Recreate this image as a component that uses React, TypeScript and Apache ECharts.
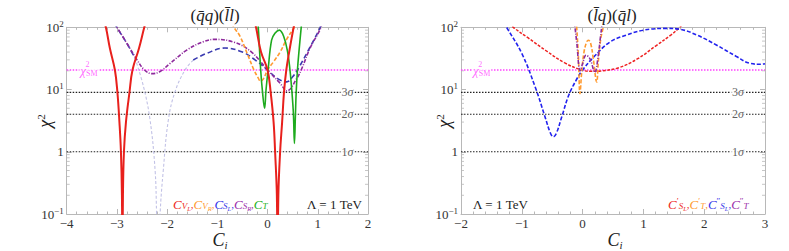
import { useEffect, useRef } from 'react';
import * as echarts from 'echarts';

const FONT = 'Liberation Serif, DejaVu Serif, serif';
const FRAME = '#b8b8b8';

const leftRange = [-4, 2];
const rightRange = [-2, 3];
const chi2SM = 20.6;
const sigmaChi2 = [1, 4, 9];
const sigmaText = ['1σ', '2σ', '3σ'];
const logMinor = [0.2, 0.3, 0.4, 0.5, 0.6, 0.7, 0.8, 0.9, 2, 3, 4, 5, 6, 7, 8, 9, 20, 30, 40, 50, 60, 70, 80, 90];

// ---- left panel (q̄q)(l̄l)
const cVL1 = [[-3.27, 130], [-3.22, 100], [-3.14, 46], [-3.04, 20.6], [-2.99, 9], [-2.95, 3], [-2.92, 1], [-2.9, 0.2], [-2.89, 0.01], [-2.88, 0.2], [-2.86, 1], [-2.82, 3], [-2.75, 9], [-2.69, 20.6], [-2.56, 46], [-2.455, 100], [-2.42, 125]];
const cVL2 = [[-0.27, 130], [-0.23, 100], [-0.13, 40], [0, 20.6], [0.062, 9], [0.12, 3], [0.15, 1], [0.185, 0.2], [0.2, 0.01], [0.215, 0.2], [0.25, 1], [0.29, 3], [0.327, 9], [0.373, 20.6], [0.43, 40], [0.52, 100], [0.55, 125]];
const cVR = [[-0.7, 118], [-0.67, 100], [-0.55, 72], [-0.4, 37], [-0.27, 20.6], [-0.19, 15.5], [-0.14, 13.6], [-0.08, 15], [0, 20.6], [0.12, 28], [0.25, 40], [0.37, 62], [0.53, 100], [0.56, 112]];
const cSLa = [[-3.04, 118], [-3.0, 100], [-2.8, 55], [-2.64, 32]];
const cSLfaint = [[-2.64, 32], [-2.47, 11.1], [-2.34, 3.24], [-2.24, 0.51], [-2.21, 0.1], [-2.175, 0.01], [-2.14, 0.1], [-2.076, 0.51], [-1.976, 3.24], [-1.843, 9.2], [-1.644, 20.6], [-1.48, 29.8]];
const cSLb = [[-1.48, 29.8], [-1.21, 38.2], [-0.85, 46.5], [-0.5, 40], [-0.25, 30], [0, 20.6], [0.2, 15], [0.38, 13.3], [0.5, 16], [0.63, 23], [0.845, 48], [1.04, 96], [1.06, 110]];
const cSR = [[-3.06, 118], [-3.0, 100], [-2.8, 55], [-2.6, 30], [-2.45, 20.6], [-2.3, 18], [-2.15, 19.3], [-1.94, 26.3], [-1.61, 43], [-1.28, 58.6], [-1.05, 64], [-0.65, 57], [-0.32, 40], [0, 20.6], [0.25, 12.6], [0.385, 9.5], [0.58, 15], [0.68, 21.6], [0.845, 46], [1.04, 90], [1.08, 110]];
const cT = [[-0.2, 130], [-0.185, 100], [-0.137, 20.6], [-0.1, 9], [-0.06, 5], [-0.03, 10], [0.01, 20.6], [0.08, 62], [0.147, 80], [0.233, 90], [0.32, 72], [0.4, 40], [0.446, 20.6], [0.486, 9], [0.515, 4], [0.535, 1.36], [0.555, 4], [0.57, 9], [0.595, 20.6], [0.63, 45], [0.67, 100], [0.68, 120]];

// ---- right panel (l̄q)(q̄l)
const cSLp = [[-1.2, 118], [-1.14, 100], [-0.9, 68], [-0.6, 42], [-0.3, 27], [0, 20.4], [0.15, 19.6], [0.3, 19.9], [0.6, 22.5], [0.9, 31], [1.2, 50], [1.45, 75], [1.6, 100], [1.63, 108]];
const cTp = [[-0.11, 130], [-0.097, 100], [-0.07, 35], [-0.043, 8.6], [-0.015, 19], [0.023, 40], [0.067, 58], [0.094, 62], [0.133, 55], [0.176, 31], [0.232, 13.2], [0.258, 27.7], [0.298, 65], [0.34, 100], [0.35, 115]];
const cSLpp = [[-1.3, 120], [-1.25, 100], [-1.0, 38], [-0.78, 11], [-0.62, 3.7], [-0.53, 2.0], [-0.48, 1.74], [-0.43, 2.0], [-0.34, 3.7], [-0.23, 8], [-0.1, 14.5], [0, 20.6], [0.18, 33], [0.45, 58], [0.72, 75], [1.0, 90], [1.38, 96], [1.6, 93], [1.88, 75], [2.2, 52], [2.53, 34], [2.75, 26.4], [2.92, 25.5], [3.0, 26]];
const cTpp = [[-0.14, 130], [-0.125, 100], [-0.097, 58], [-0.04, 20], [0.0, 26], [0.056, 35.5], [0.122, 31], [0.2, 19], [0.258, 35.5], [0.29, 65], [0.314, 100], [0.325, 120]];

const leftLegend = [
  { sub: 'V', subsub: 'L', color: '#ee2a22' },
  { sub: 'V', subsub: 'R', color: '#ff9a30' },
  { sub: 'S', subsub: 'L', color: '#3535e8' },
  { sub: 'S', subsub: 'R', color: '#9a2eaa' },
  { sub: 'T', subsub: '', color: '#22b022' },
];
const rightLegend = [
  { prime: '′', sub: 'S', subsub: 'L', color: '#ee2a22' },
  { prime: '′', sub: 'T', subsub: '', color: '#ff9a30' },
  { prime: '″', sub: 'S', subsub: 'L', color: '#3535e8' },
  { prime: '″', sub: 'T', subsub: '', color: '#9a2eaa' },
];

function legendText(items: any[]) {
  const rich: any = {};
  let text = '';
  items.forEach((it, i) => {
    const k = 'k' + i;
    rich[k + 'm'] = { fill: it.color, fontSize: 13, fontStyle: 'italic', fontFamily: FONT, lineHeight: 18 };
    rich[k + 'p'] = { fill: it.color, fontSize: 9, fontFamily: FONT, lineHeight: 9, verticalAlign: 'top', padding: [1, 0, 0, 0] };
    rich[k + 's'] = { fill: it.color, fontSize: 9, fontStyle: 'italic', fontFamily: FONT, lineHeight: 9, verticalAlign: 'bottom', padding: [0, 0, 3, 0] };
    rich[k + 'q'] = { fill: it.color, fontSize: 6.5, fontStyle: 'italic', fontFamily: FONT, lineHeight: 6, verticalAlign: 'bottom', padding: [0, 0, 1, 0] };
    rich[k + 'c'] = { fill: it.color, fontSize: 11, fontFamily: FONT, lineHeight: 18 };
    text += `{${k}m|C}`;
    if (it.prime) text += `{${k}p|${it.prime}}`;
    text += `{${k}s|${it.sub}}`;
    if (it.subsub) text += `{${k}q|${it.subsub}}`;
    if (i < items.length - 1) text += `{${k}c|,}`;
  });
  return { text, rich };
}

function xAxis(gridIndex: number, range: number[], position: string, showLabel: boolean) {
  return {
    type: 'value', gridIndex, min: range[0], max: range[1], interval: 1, position,
    axisLine: { show: true, onZero: false, lineStyle: { color: FRAME, width: 1 } },
    axisTick: { show: true, inside: true, length: 5, lineStyle: { color: FRAME } },
    minorTick: { show: true, splitNumber: 5, length: 2.5, lineStyle: { color: FRAME } },
    splitLine: { show: false },
    axisLabel: {
      show: showLabel, margin: 3, fontSize: 13, fontFamily: FONT, color: '#333',
      formatter: (v: number) => (v < 0 ? '\u2212' + Math.abs(v) : String(v)),
    },
  };
}

function yAxis(gridIndex: number, position: string, showLabel: boolean) {
  return {
    type: 'log', logBase: 10, gridIndex, min: 0.1, max: 100, position,
    axisLine: { show: true, onZero: false, lineStyle: { color: FRAME, width: 1 } },
    axisTick: { show: true, inside: true, length: 5, lineStyle: { color: FRAME } },
    splitLine: { show: false },
    axisLabel: {
      show: showLabel, margin: 3, fontSize: 13, fontFamily: FONT, color: '#333', lineHeight: 16,
      formatter: (v: number) => {
        const e = Math.round(Math.log10(v));
        if (e === 0) return '1';
        return '10{s|' + (e < 0 ? '\u2212' + -e : e) + '}';
      },
      rich: { s: { fontSize: 9, fontFamily: FONT, color: '#333', lineHeight: 9, verticalAlign: 'top' } },
    },
  };
}

function curve(data: any[], color: string, type: any, width: number, xi: number, yi: number, z = 3) {
  return {
    type: 'line', data, xAxisIndex: xi, yAxisIndex: yi, symbol: 'none', showSymbol: false,
    smooth: 0.4, clip: true, silent: true, z,
    lineStyle: { color, width, type, cap: 'butt' },
  };
}

function hline(range: number[], v: number, color: string, width: number, xi: number, yi: number) {
  return {
    type: 'line', data: [[range[0], v], [range[1], v]], xAxisIndex: xi, yAxisIndex: yi,
    symbol: 'none', silent: true, z: 2, lineStyle: { color, width, type: [1.5, 1.5] },
  };
}

function labelPoint(x: number, y: number, formatter: string, rich: any, xi: number, yi: number, extra: any = {}) {
  return {
    type: 'scatter', data: [[x, y]], xAxisIndex: xi, yAxisIndex: yi, symbolSize: 1, silent: true, z: 6,
    itemStyle: { color: 'rgba(0,0,0,0)' },
    label: { show: true, position: 'inside', formatter, rich, fontFamily: FONT, ...extra },
  };
}

function minorTicks(range: number[], xi: number, yi: number) {
  const mk = (x: number, off: number) => ({
    type: 'scatter', data: logMinor.map((v) => [x, v]), xAxisIndex: xi, yAxisIndex: yi,
    symbol: 'rect', symbolSize: [3, 1], symbolOffset: [off, 0], silent: true, z: 1,
    itemStyle: { color: FRAME },
  });
  return [mk(range[0], 1.5), mk(range[1], -1.5)];
}

function panelSeries(range: number[], xi: number, yi: number, smX: number, sigX: number) {
  const s: any[] = [];
  s.push(hline(range, chi2SM, '#ff44ff', 1.6, xi, yi));
  sigmaChi2.forEach((v) => s.push(hline(range, v, '#222', 1.1, xi, yi)));
  s.push(...minorTicks(range, xi, yi));
  s.push(labelPoint(smX, chi2SM, '{c|χ}{s|SM}', {
    c: { fontSize: 13, fontStyle: 'italic', fontFamily: FONT, color: '#ff44ff', lineHeight: 14 },
    s: { fontSize: 8, fontFamily: FONT, color: '#ff44ff', lineHeight: 8, verticalAlign: 'bottom' },
  }, xi, yi, { backgroundColor: '#fff', padding: [0, 1] }));
  s.push(labelPoint(smX, chi2SM, '2', {}, xi, yi, { fontSize: 8, color: '#ff44ff', offset: [-1.5, -6] }));
  sigmaChi2.forEach((v, i) => s.push(labelPoint(sigX, v, '{n|' + sigmaText[i].replace('σ', '') + '}{g|σ}', {
    n: { fontSize: 12, fontFamily: FONT, color: '#333' },
    g: { fontSize: 12, fontFamily: FONT, fontStyle: 'italic', color: '#333' },
  }, xi, yi, { backgroundColor: '#fff', padding: [0, 1] })));
  return s;
}

export default function App() {
  const ref = useRef<HTMLDivElement>(null);
  useEffect(() => {
    const chart = echarts.init(ref.current!, undefined, { renderer: 'svg' });
    const lg = legendText(leftLegend);
    const rg = legendText(rightLegend);
    const titleRich = {
      n: { fontSize: 17, fontFamily: FONT, fill: '#222' },
      i: { fontSize: 17, fontFamily: FONT, fontStyle: 'italic', fill: '#222' },
    };
    const chiRich = {
      c: { fontSize: 18, fontFamily: FONT, fontStyle: 'italic', fill: '#222', lineHeight: 20 },
      s: { fontSize: 11, fontFamily: FONT, fill: '#222', lineHeight: 11, verticalAlign: 'top' },
    };
    const ciRich = {
      c: { fontSize: 18, fontFamily: FONT, fontStyle: 'italic', fill: '#222', lineHeight: 20 },
      s: { fontSize: 11, fontFamily: FONT, fontStyle: 'italic', fill: '#222', lineHeight: 11, verticalAlign: 'bottom' },
    };
    const option: any = {
      animation: false,
      backgroundColor: '#fff',
      grid: [
        { left: 66.7, top: 27.3, width: 301.3, height: 186.7 },
        { left: 461, top: 27.3, width: 304, height: 186.7 },
      ],
      xAxis: [
        xAxis(0, leftRange, 'bottom', true),
        xAxis(0, leftRange, 'top', false),
        xAxis(1, rightRange, 'bottom', true),
        xAxis(1, rightRange, 'top', false),
      ],
      yAxis: [
        yAxis(0, 'left', true),
        yAxis(0, 'right', false),
        yAxis(1, 'left', true),
        yAxis(1, 'right', false),
      ],
      series: [
        ...panelSeries(leftRange, 0, 0, -3.556, 1.59),
        curve(cSLfaint, '#c2c2e6', [3, 2], 1.1, 0, 0),
        curve(cSLa, '#3a3ab0', [5, 3], 1.6, 0, 0),
        curve(cSLb, '#3a3ab0', [5, 3], 1.6, 0, 0),
        curve(cSR, '#8e2a9c', [4, 1.5, 1, 1.5], 1.6, 0, 0),
        curve(cVR, '#ff9a30', [4, 2], 1.6, 0, 0),
        curve(cT, '#1eaa1e', 'solid', 1.6, 0, 0),
        curve(cVL1, '#e8201c', 'solid', 2, 0, 0),
        curve(cVL2, '#e8201c', 'solid', 2, 0, 0),
        ...panelSeries(rightRange, 2, 2, -1.66, 2.556),
        curve(cSLp, '#ee2222', [3, 1.5], 1.5, 2, 2),
        curve(cSLpp, '#2222ee', [4, 2], 1.6, 2, 2),
        curve(cTp, '#ff9a30', [4, 2], 1.6, 2, 2),
        curve(cTpp, '#8e2a9c', [4, 1.5, 1, 1.5], 1.6, 2, 2),
      ],
      graphic: [
        { type: 'text', x: 215, y: 15, style: { text: '{n|(}{i|q̄q}{n|)(}{i|l̄l}{n|)}', rich: titleRich, align: 'center', verticalAlign: 'middle' } },
        { type: 'text', x: 612, y: 15, style: { text: '{n|(}{i|l̄q}{n|)(}{i|q̄l}{n|)}', rich: titleRich, align: 'center', verticalAlign: 'middle' } },
        { type: 'text', x: 45, y: 121, rotation: Math.PI / 2, style: { text: '{c|χ}{s|2}', rich: chiRich, align: 'center', verticalAlign: 'middle' } },
        { type: 'text', x: 444, y: 121, rotation: Math.PI / 2, style: { text: '{c|χ}{s|2}', rich: chiRich, align: 'center', verticalAlign: 'middle' } },
        { type: 'text', x: 220, y: 240, style: { text: '{c|C}{s|i}', rich: ciRich, align: 'center', verticalAlign: 'middle' } },
        { type: 'text', x: 615, y: 240, style: { text: '{c|C}{s|i}', rich: ciRich, align: 'center', verticalAlign: 'middle' } },
        { type: 'text', x: 173, y: 204, style: { text: lg.text, rich: lg.rich, align: 'left', verticalAlign: 'middle' } },
        { type: 'text', x: 668, y: 204, style: { text: rg.text, rich: rg.rich, align: 'left', verticalAlign: 'middle' } },
        { type: 'text', x: 307, y: 204, style: { text: 'Λ = 1 TeV', fontSize: 13, fontFamily: FONT, fill: '#222', align: 'left', verticalAlign: 'middle' } },
        { type: 'text', x: 473, y: 204, style: { text: 'Λ = 1 TeV', fontSize: 13, fontFamily: FONT, fill: '#222', align: 'left', verticalAlign: 'middle' } },
      ],
    };
    chart.setOption(option);
    return () => chart.dispose();
  }, []);
  return <div ref={ref} style={{ position: 'fixed', left: 0, top: 0, width: 789, height: 251 }} />;
}
